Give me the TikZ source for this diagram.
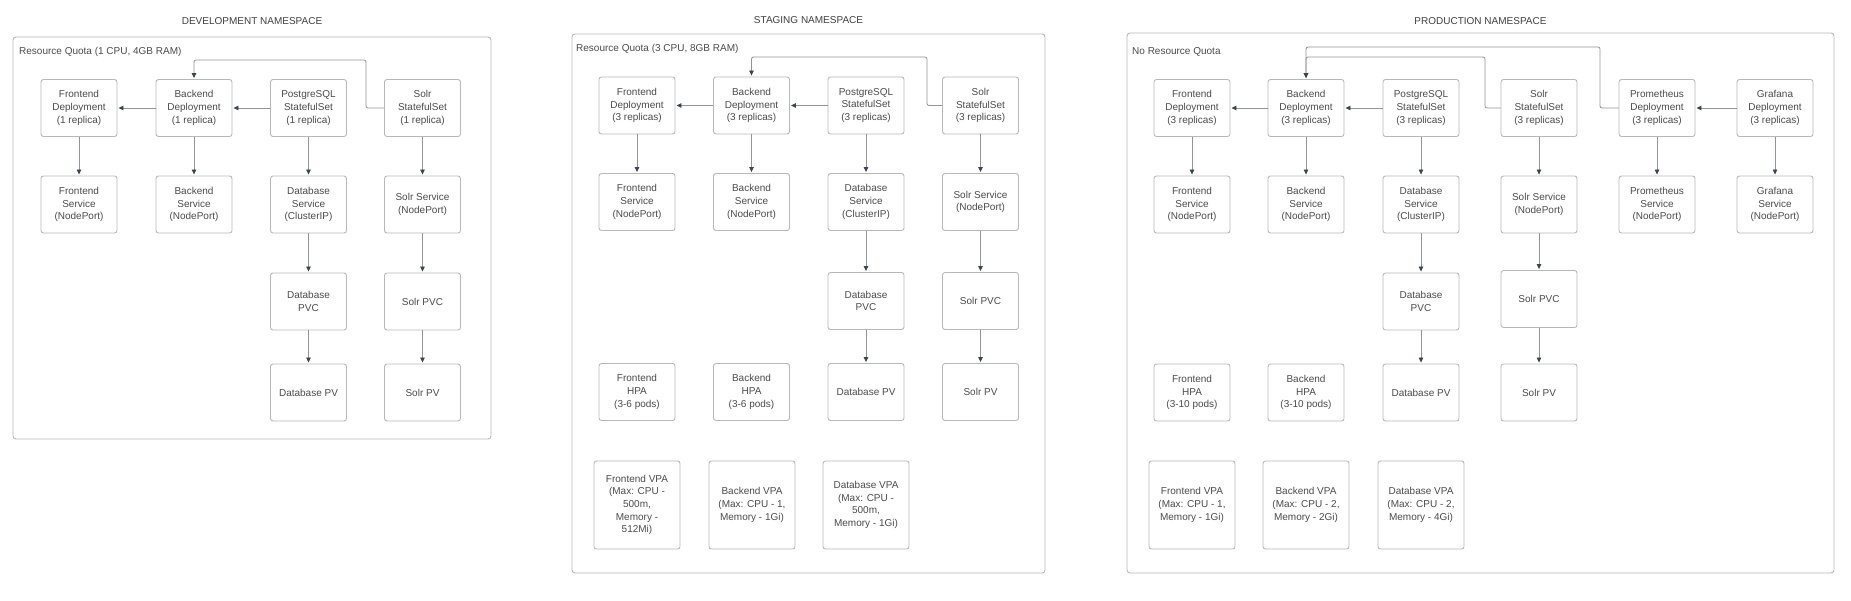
\documentclass[tikz,border=0pt]{standalone}
\usepackage{fontspec}
\setmainfont{Liberation Sans}
\usetikzlibrary{
	arrows.meta,
	positioning,
	calc,
}
\definecolor{boxline}{HTML}{B8B8B8}
\definecolor{wireline}{HTML}{939393}
\definecolor{tipfill}{HTML}{3E4450}
\definecolor{labeltext}{HTML}{4A4A4A}
\tikzset{k8sbox/.style={
		% The shape:
		rectangle,rounded corners=2.5pt,
		% The size:
		minimum width=76pt,minimum height=57pt,inner sep=1pt,
		% The border:
		draw=boxline,line width=0.9pt,
		% The text:
		align=center,text=labeltext,
		font=\fontsize{10}{12.6}\selectfont,
}}
\tikzset{vpabox/.style={
		% same box, only larger
		k8sbox,minimum width=86pt,minimum height=88pt,
}}
\tikzset{nsframe/.style={
		% The namespace frame:
		rectangle,rounded corners=3pt,
		draw=boxline,line width=0.9pt,inner sep=0pt,
}}
\tikzset{nstitle/.style={
		font=\fontsize{10}{12}\selectfont,text=labeltext!85!black,inner sep=0pt,
}}
\tikzset{quota/.style={
		anchor=west,font=\fontsize{10}{12}\selectfont,text=labeltext,inner sep=0pt,
}}
\tikzset{wire/.style={
		->,draw=wireline,line width=0.8pt,shorten >=1pt,
}}

\begin{document}
\begin{tikzpicture}[x=1pt,y=-1pt,
	>={Triangle[length=5pt,width=4.5pt,color=tipfill]}]
	\useasboundingbox (0,0) rectangle (1851,600);
	% development namespace
	\node[nsframe,minimum width=478pt,minimum height=402pt] (devns) at (252,238) {};
	\node[nstitle] (devtitle) at (252,21) {DEVELOPMENT NAMESPACE};
	\node[quota] (devquota) at (19,52) {Resource Quota (1 CPU, 4GB RAM)};
	\node[k8sbox] (devfd) at (79,108) {Frontend\\Deployment\\(1 replica)};
	\node[k8sbox] (devbd) at (194,108) {Backend\\Deployment\\(1 replica)};
	\node[k8sbox] (devpg) at (308.5,108) {PostgreSQL\\StatefulSet\\(1 replica)};
	\node[k8sbox] (devsolr) at (422.5,108) {Solr\\StatefulSet\\(1 replica)};
	\node[k8sbox] (devfs) at (79,204.5) {Frontend\\Service\\(NodePort)};
	\node[k8sbox] (devbs) at (194,204.5) {Backend\\Service\\(NodePort)};
	\node[k8sbox] (devdbs) at (308.5,204.5) {Database\\Service\\(ClusterIP)};
	\node[k8sbox] (devss) at (422.5,204.5) {Solr Service\\(NodePort)};
	\node[k8sbox] (devdbpvc) at (308.5,301.5) {Database\\PVC};
	\node[k8sbox] (devspvc) at (422.5,301.5) {Solr PVC};
	\node[k8sbox] (devdbpv) at (308.5,392.5) {Database PV};
	\node[k8sbox] (devspv) at (422.5,392.5) {Solr PV};
	\draw[wire] (devpg.west) -- (devbd.east);
	\draw[wire] (devbd.west) -- (devfd.east);
	\draw[wire,rounded corners=2pt] (devsolr.west) -| (366,60) -| (devbd.north);
	\foreach \a/\b in {devfd/devfs,devbd/devbs,devpg/devdbs,devsolr/devss,
		devdbs/devdbpvc,devss/devspvc,devdbpvc/devdbpv,devspvc/devspv}
		\draw[wire] (\a) -- (\b);
	% staging namespace
	\node[nsframe,minimum width=473pt,minimum height=539pt] (stgns) at (808.5,303.5) {};
	\node[nstitle] (stgtitle) at (808.5,20) {STAGING NAMESPACE};
	\node[quota] (stgquota) at (576,49) {Resource Quota (3 CPU, 8GB RAM)};
	\node[k8sbox] (stgfd) at (637,105.5) {Frontend\\Deployment\\(3 replicas)};
	\node[k8sbox] (stgbd) at (751.5,105.5) {Backend\\Deployment\\(3 replicas)};
	\node[k8sbox] (stgpg) at (866,105.5) {PostgreSQL\\StatefulSet\\(3 replicas)};
	\node[k8sbox] (stgsolr) at (980.5,105.5) {Solr\\StatefulSet\\(3 replicas)};
	\node[k8sbox] (stgfs) at (637,202) {Frontend\\Service\\(NodePort)};
	\node[k8sbox] (stgbs) at (751.5,202) {Backend\\Service\\(NodePort)};
	\node[k8sbox] (stgdbs) at (866,202) {Database\\Service\\(ClusterIP)};
	\node[k8sbox] (stgss) at (980.5,202) {Solr Service\\(NodePort)};
	\node[k8sbox] (stgdbpvc) at (866,301) {Database\\PVC};
	\node[k8sbox] (stgspvc) at (980.5,301) {Solr PVC};
	\node[k8sbox] (stgfhpa) at (637,392) {Frontend\\HPA\\(3-6 pods)};
	\node[k8sbox] (stgbhpa) at (751.5,392) {Backend\\HPA\\(3-6 pods)};
	\node[k8sbox] (stgdbpv) at (866,392) {Database PV};
	\node[k8sbox] (stgspv) at (980.5,392) {Solr PV};
	\node[vpabox] (stgfvpa) at (637,505) {Frontend VPA\\(Max: CPU -\\500m,\\Memory -\\512Mi)};
	\node[vpabox] (stgbvpa) at (752,505) {Backend VPA\\(Max: CPU - 1,\\Memory - 1Gi)};
	\node[vpabox] (stgdbvpa) at (866,505) {Database VPA\\(Max: CPU -\\500m,\\Memory - 1Gi)};
	\draw[wire] (stgpg.west) -- (stgbd.east);
	\draw[wire] (stgbd.west) -- (stgfd.east);
	\draw[wire,rounded corners=2pt] (stgsolr.west) -| (927,57) -| (stgbd.north);
	\foreach \a/\b in {stgfd/stgfs,stgbd/stgbs,stgpg/stgdbs,stgsolr/stgss,
		stgdbs/stgdbpvc,stgss/stgspvc,stgdbpvc/stgdbpv,stgspvc/stgspv}
		\draw[wire] (\a) -- (\b);
	% production namespace
	\node[nsframe,minimum width=707pt,minimum height=540pt] (prdns) at (1480.5,303) {};
	\node[nstitle] (prdtitle) at (1480.5,21) {PRODUCTION NAMESPACE};
	\node[quota] (prdquota) at (1132,52) {No Resource Quota};
	\node[k8sbox] (prdfd) at (1192,108) {Frontend\\Deployment\\(3 replicas)};
	\node[k8sbox] (prdbd) at (1306,108) {Backend\\Deployment\\(3 replicas)};
	\node[k8sbox] (prdpg) at (1421,108) {PostgreSQL\\StatefulSet\\(3 replicas)};
	\node[k8sbox] (prdsolr) at (1539,108) {Solr\\StatefulSet\\(3 replicas)};
	\node[k8sbox] (prdprom) at (1657,108) {Prometheus\\Deployment\\(3 replicas)};
	\node[k8sbox] (prdgraf) at (1775,108) {Grafana\\Deployment\\(3 replicas)};
	\node[k8sbox] (prdfs) at (1192,204.5) {Frontend\\Service\\(NodePort)};
	\node[k8sbox] (prdbs) at (1306,204.5) {Backend\\Service\\(NodePort)};
	\node[k8sbox] (prddbs) at (1421,204.5) {Database\\Service\\(ClusterIP)};
	\node[k8sbox] (prdss) at (1539,204.5) {Solr Service\\(NodePort)};
	\node[k8sbox] (prdps) at (1657,204.5) {Prometheus\\Service\\(NodePort)};
	\node[k8sbox] (prdgs) at (1775,204.5) {Grafana\\Service\\(NodePort)};
	\node[k8sbox] (prddbpvc) at (1421,301.5) {Database\\PVC};
	\node[k8sbox] (prdspvc) at (1539,299) {Solr PVC};
	\node[k8sbox] (prdfhpa) at (1192,392.5) {Frontend\\HPA\\(3-10 pods)};
	\node[k8sbox] (prdbhpa) at (1306,392.5) {Backend\\HPA\\(3-10 pods)};
	\node[k8sbox] (prddbpv) at (1421,392.5) {Database PV};
	\node[k8sbox] (prdspv) at (1539,392.5) {Solr PV};
	\node[vpabox] (prdfvpa) at (1192,505) {Frontend VPA\\(Max: CPU - 1,\\Memory - 1Gi)};
	\node[vpabox] (prdbvpa) at (1306,505) {Backend VPA\\(Max: CPU - 2,\\Memory - 2Gi)};
	\node[vpabox] (prddbvpa) at (1421,505) {Database VPA\\(Max: CPU - 2,\\Memory - 4Gi)};
	\draw[wire] (prdpg.west) -- (prdbd.east);
	\draw[wire] (prdbd.west) -- (prdfd.east);
	\draw[wire] (prdgraf.west) -- (prdprom.east);
	\draw[wire,rounded corners=2pt] (prdsolr.west) -| (1485,57) -| (prdbd.north);
	\draw[wire,rounded corners=2pt] (prdprom.west) -| (1600,47) -| (prdbd.north);
	\foreach \a/\b in {prdfd/prdfs,prdbd/prdbs,prdpg/prddbs,prdsolr/prdss,
		prdprom/prdps,prdgraf/prdgs,prddbs/prddbpvc,prdss/prdspvc,
		prddbpvc/prddbpv,prdspvc/prdspv}
		\draw[wire] (\a) -- (\b);
\end{tikzpicture}
\end{document}
